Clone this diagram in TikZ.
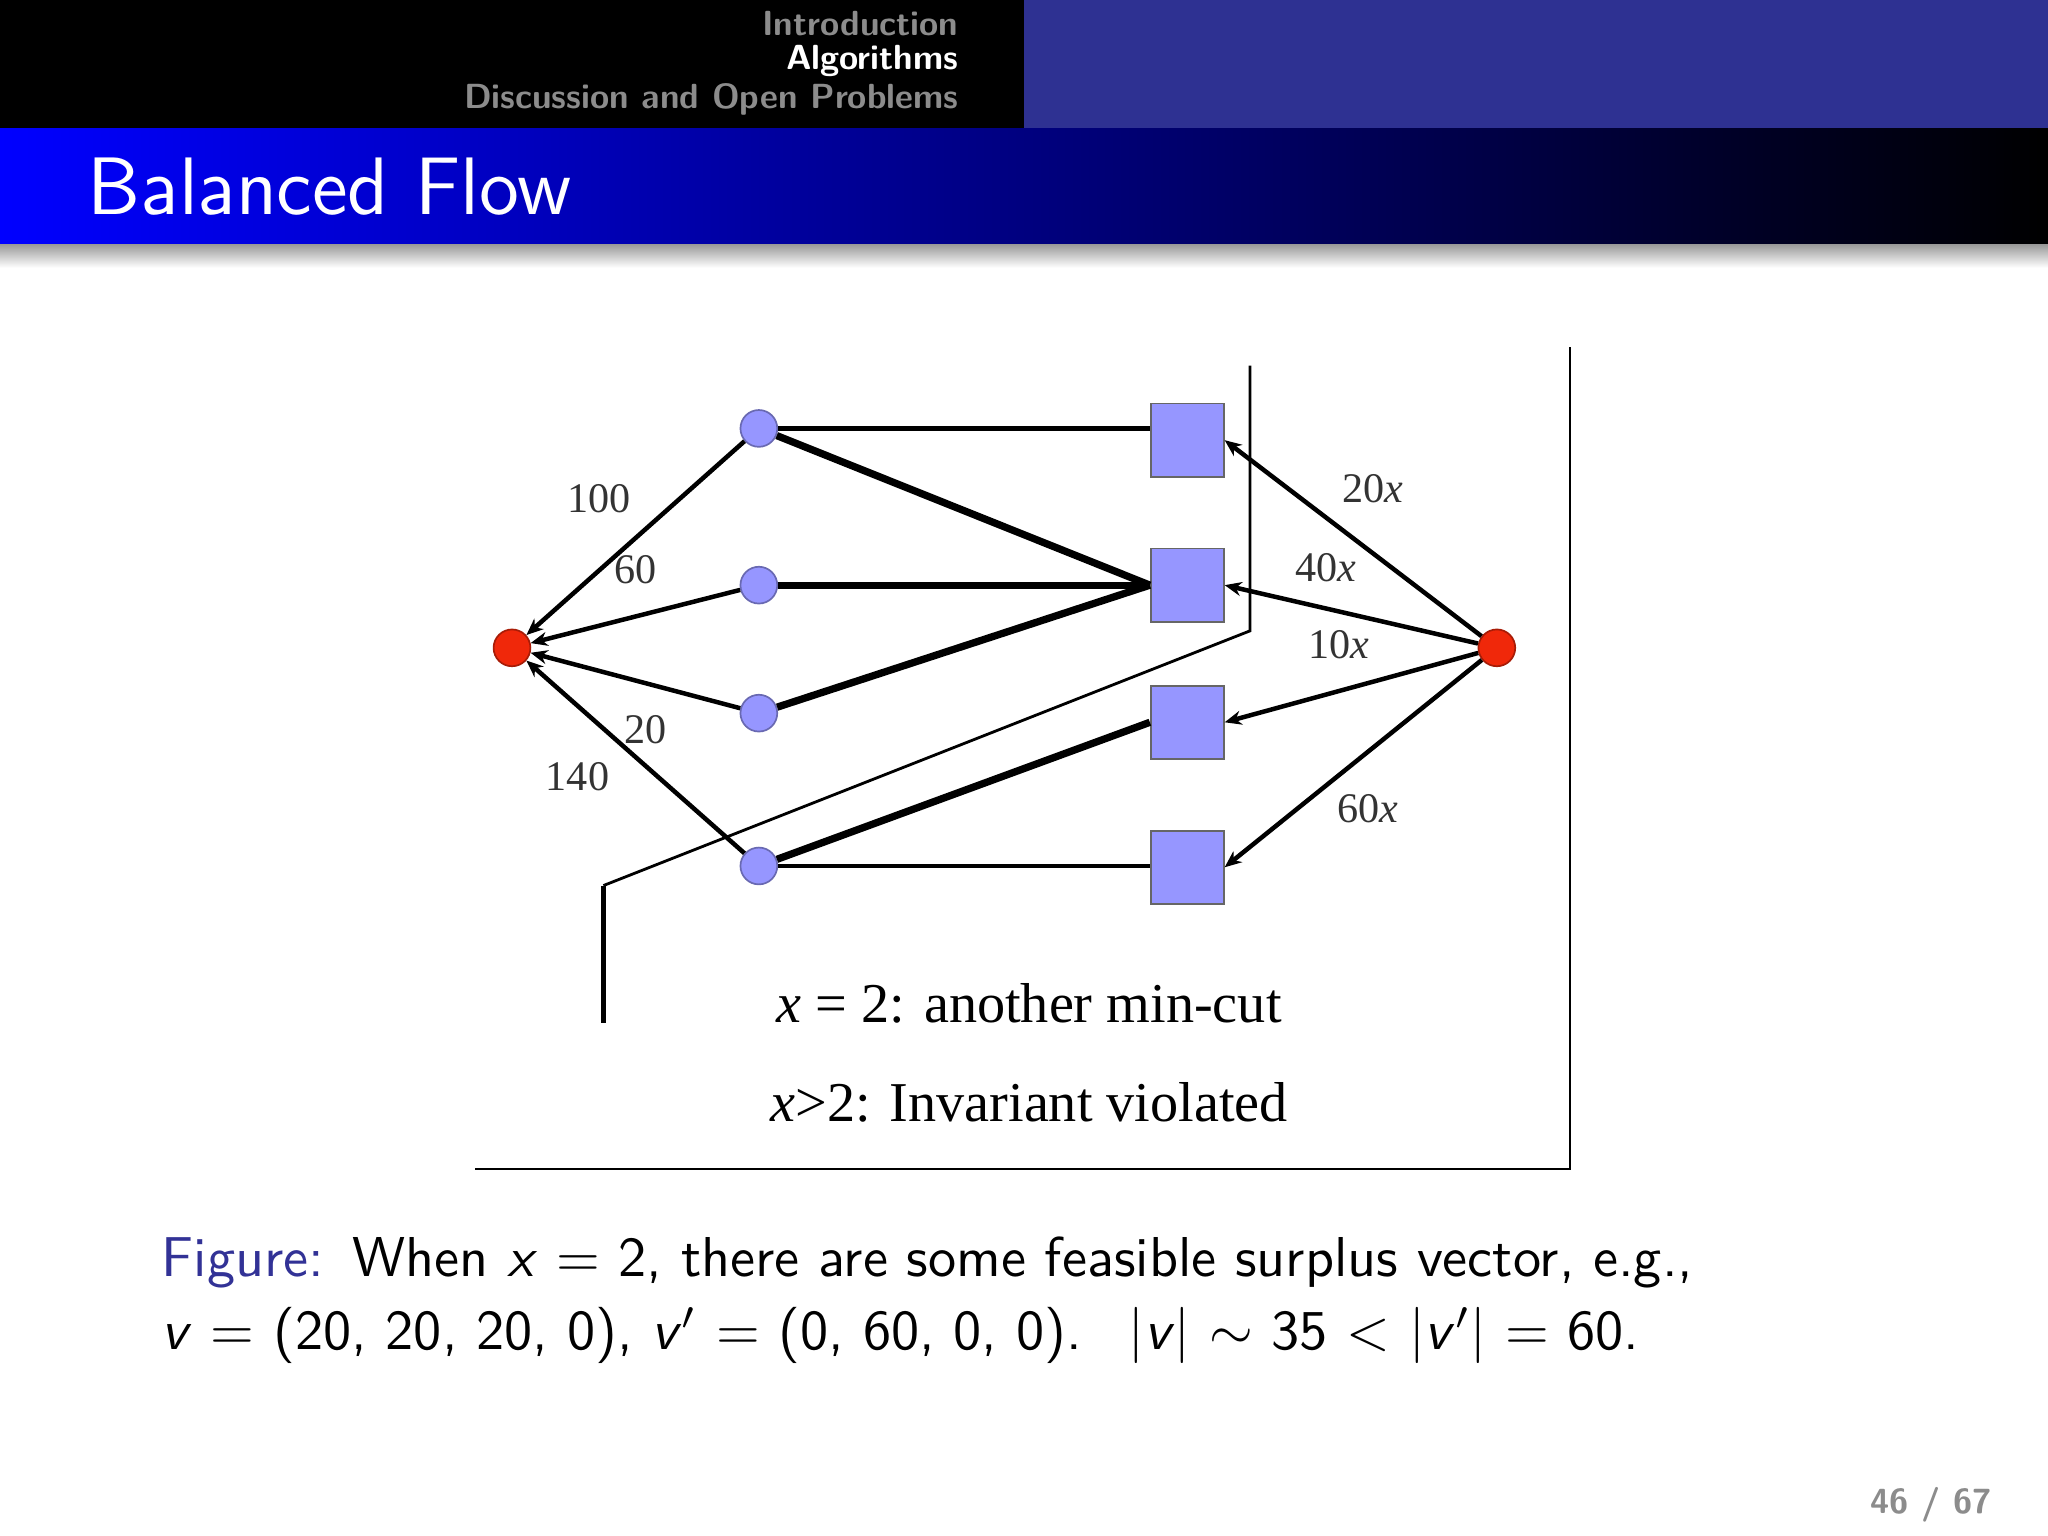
\documentclass[tikz,border=0pt]{standalone}
\usepackage{fontspec}
\newfontfamily\tms{Liberation Serif}
\usetikzlibrary{arrows.meta}
\definecolor{hdrblue}{RGB}{46,49,146}
\definecolor{nodeblue}{RGB}{150,150,255}
\definecolor{redn}{RGB}{240,40,10}
\definecolor{figblue}{RGB}{50,50,150}
\tikzset{
 circ/.style={circle,fill=nodeblue,draw=nodeblue!70!black,line width=0.3pt,minimum size=0.23cm,inner sep=0},
 rnode/.style={circle,fill=redn,draw=redn!70!black,line width=0.3pt,minimum size=0.23cm,inner sep=0},
 sq/.style={rectangle,fill=nodeblue,draw=black!60,line width=0.3pt,minimum size=0.457cm,inner sep=0},
 thinl/.style={line width=0.8pt},
 thickl/.style={line width=1.3pt},
 arr/.style={line width=0.8pt,-{Stealth[length=3pt,width=2.5pt]}},
 lab/.style={font=\tms\fontsize{7.5}{9}\selectfont,text=black!80},
}
\begin{document}
\begin{tikzpicture}[x=0.008163cm,y=-0.008163cm]
\useasboundingbox (0,0) rectangle (1568,1176);
\fill[white] (0,0) rectangle (1568,1176);
% header
\fill[black] (0,0) rectangle (784,98);
\fill[hdrblue] (784,0) rectangle (1568,98);
\node[anchor=east,text=black!45,font=\sffamily\bfseries\fontsize{6.2}{7}\selectfont] (h1) at (749,18) {Introduction};
\node[anchor=east,text=white,font=\sffamily\bfseries\fontsize{6.2}{7}\selectfont] (h2) at (749,47) {Algorithms};
\node[anchor=east,text=black!45,font=\sffamily\bfseries\fontsize{6.2}{7}\selectfont] (h3) at (749,76) {Discussion and Open Problems};
% title bar
\shade[left color=blue,right color=black] (0,98) rectangle (1568,187);
\shade[top color=black!40,bottom color=white] (0,187) rectangle (1568,205);
\node[anchor=west,text=white,font=\sffamily\fontsize{14.5}{17}\selectfont] (title) at (52,143) {Balanced Flow};
% frame
\draw[line width=0.5pt] (1202,266) -- (1202,895) -- (364,895);
% nodes
\node[rnode] (s) at (392,496) {};
\node[rnode] (t) at (1146,496) {};
\node[circ] (c1) at (581,328) {};
\node[circ] (c2) at (581,448) {};
\node[circ] (c3) at (581,546) {};
\node[circ] (c4) at (581,663) {};
\node[sq] (q1) at (909,337) {};
\node[sq] (q2) at (909,448) {};
\node[sq] (q3) at (909,553) {};
\node[sq] (q4) at (909,664) {};
% middle edges
\draw[thinl] (c1) -- (c1-|q1.west);
\draw[thickl] (c1) -- (q2.west);
\draw[thickl] (c2) -- (q2.west);
\draw[thickl] (c3) -- (q2.west);
\draw[thickl] (c4) -- (q3.west);
\draw[thinl] (c4) -- (c4-|q4.west);
% arrows to s
\draw[arr] (c1) -- (s) node[lab,pos=0.45,above left=-1pt] {100};
\draw[arr] (c2) -- (s) node[lab,pos=0.5,above=2pt] {60};
\draw[arr] (c3) -- (s) node[lab,pos=0.45,below=2pt] {20};
\draw[arr] (c4) -- (s) node[lab,pos=0.55,below left=-1pt] {140};
% arrows from t
\draw[arr] (t) -- (q1.east) node[lab,pos=0.6,above right=-1pt] {20\textit{x}};
\draw[arr] (t) -- (q2.east) node[lab,pos=0.6,above=1pt] {40\textit{x}};
\draw[arr] (t) -- (q3.east) node[lab,pos=0.55,above=2pt] {10\textit{x}};
\draw[arr] (t) -- (q4.east) node[lab,pos=0.6,below right=-2pt] {60\textit{x}};
% cut
\coordinate (k1) at (957,280);
\coordinate (k2) at (957,483);
\coordinate (k3) at (462,678);
\coordinate (k4) at (462,783);
\draw[line width=0.5pt] (k1) -- (k2) -- (k3);
\draw[line width=1pt] (k3) -- (k4);
% texts
\node[font=\tms\fontsize{10}{12}\selectfont] (t1) at (788,768) {\textit{x} = 2: another min-cut};
\node[font=\tms\fontsize{10}{12}\selectfont] (t2) at (788,844) {\textit{x}>2: Invariant violated};
% caption
\node[anchor=north west,font=\sffamily\fontsize{10}{14}\selectfont,text width=1300,inner sep=0,align=left] (cap) at (123,946)
 {\textcolor{figblue}{Figure:} When \textit{x} = 2, there are some feasible surplus vector, e.g.,\\[-1pt]
 \textit{v} = (20, 20, 20, 0), \textit{v}$'$ = (0, 60, 0, 0). \ $|$\textit{v}$|$ $\sim$ 35 $<$ $|$\textit{v}$'|$ = 60.};
\node[anchor=east,text=black!45,font=\sffamily\bfseries\fontsize{6.2}{7}\selectfont] (pg) at (1540,1152) {46 / 67};
\end{tikzpicture}
\end{document}
